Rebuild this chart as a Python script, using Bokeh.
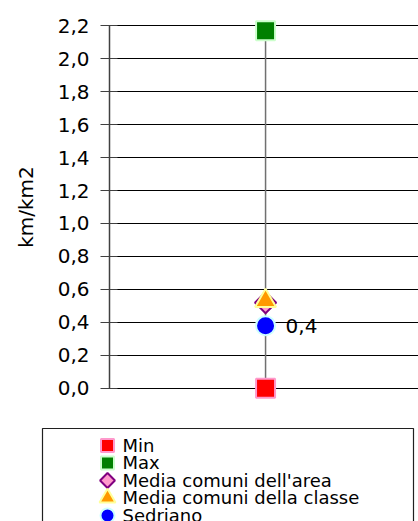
from bokeh.plotting import figure
from bokeh.models import FixedTicker, Range1d, BoxAnnotation, ColumnDataSource
from bokeh.layouts import column
from bokeh.core.properties import value
from bokeh.embed import file_html
from bokeh.resources import INLINE
import math

# data
series_names = ["Min", "Max", "Media comuni dell'area", "Media comuni della classe", "Sedriano"]
x_cat = [0.0]
min_vals = [0.0]
max_vals = [2.17]
media_area = [0.52]
media_classe = [0.53]
sedriano = [0.38]
tick_values = [0.0, 0.2, 0.4, 0.6, 0.8, 1.0, 1.2, 1.4, 1.6, 1.8, 2.0, 2.2]
tick_labels = ["0,0", "0,2", "0,4", "0,6", "0,8", "1,0", "1,2", "1,4", "1,6", "1,8", "2,0", "2,2"]
y_label = "km/km2"

FONT = "DejaVu Sans"

# styles per series (marker, size, angle, fill, line)
styles = [
    ("square", 19, 0.0, "#ff0000", "#ff99cc"),
    ("square", 19, 0.0, "#008000", "#ccffcc"),
    ("square", 15, math.pi / 4, "#ff99cc", "#800080"),
    ("triangle", 21, 0.0, "#ff9900", "#ffff99"),
    ("circle", 19, 0.0, "#0000ff", "#ccffff"),
]
legend_styles = [
    ("square", 13, 0.0),
    ("square", 13, 0.0),
    ("square", 10.5, math.pi / 4),
    ("triangle", 16, 0.0),
    ("circle", 14, 0.0),
]

p = figure(width=418, height=410, output_backend="svg", toolbar_location=None,
           x_range=Range1d(-1, 0.98), y_range=Range1d(-0.08, 2.28),
           min_border_left=109, min_border_right=0, min_border_top=12, min_border_bottom=9,
           frame_align=False)
p.outline_line_color = None
p.background_fill_color = "white"
p.border_fill_color = "white"

p.xaxis.visible = False
p.xgrid.visible = False

ya = p.yaxis[0]
ya.ticker = FixedTicker(ticks=tick_values)
ya.major_label_overrides = dict(zip(tick_values, tick_labels))
ya.bounds = (0, 2.2)
ya.minor_tick_line_color = None
ya.major_tick_in = 8
ya.major_tick_out = 9
ya.major_label_standoff = 11
ya.axis_line_color = "#404040"
ya.axis_line_width = 1.5
ya.major_tick_line_color = "#404040"
ya.major_tick_line_width = 1.2
ya.major_label_text_font = FONT
ya.major_label_text_font_size = "20px"
ya.major_label_text_color = "black"
ya.axis_label = y_label
ya.axis_label_text_font = FONT
ya.axis_label_text_font_size = "20px"
ya.axis_label_text_font_style = "normal"
ya.axis_label_text_color = "black"
ya.axis_label_standoff = 17

p.ygrid.ticker = FixedTicker(ticks=tick_values)
p.ygrid.grid_line_color = "black"
p.ygrid.grid_line_width = 1
p.ygrid.grid_line_alpha = 1.0

src = ColumnDataSource(dict(x=x_cat, lo=min_vals, hi=max_vals, area=media_area,
                            classe=media_classe, sed=sedriano,
                            lab=[f"{v:.1f}".replace(".", ",") for v in sedriano]))

p.segment(x0="x", y0="lo", x1="x", y1="hi", source=src, line_color="#707070", line_width=1.5)

for col, (mk, sz, ang, fc, lc) in zip(["lo", "hi", "area", "classe", "sed"], styles):
    p.scatter("x", col, source=src, marker=mk, size=sz, angle=ang,
              fill_color=fc, line_color=lc, line_width=2)

p.text(x="x", y="sed", text="lab", source=src, x_offset=20, text_baseline="middle",
       text_align="left", text_font=value(FONT), text_font_size="20px", text_color="black")

# legend panel
row_idx = list(range(len(series_names)))
lg = figure(width=418, height=111, output_backend="svg", toolbar_location=None,
            x_range=Range1d(-107, 311), y_range=Range1d(4.343, -2.0),
            min_border_left=0, min_border_right=0, min_border_top=0, min_border_bottom=0,
            frame_align=False)
lg.outline_line_color = None
lg.axis.visible = False
lg.grid.visible = False
lg.background_fill_color = "white"
lg.border_fill_color = "white"

box = BoxAnnotation(left=42, right=413, top=18, bottom=300,
                    left_units="canvas", right_units="canvas",
                    top_units="canvas", bottom_units="canvas",
                    fill_color=None, fill_alpha=0, line_color="#202020", line_width=1.2, line_alpha=1)
lg.add_layout(box)

for i, ((mk, _, _, fc, lc), (lmk, lsz, lang)) in enumerate(zip(styles, legend_styles)):
    lg.scatter(x=[0], y=[row_idx[i]], marker=lmk, size=lsz, angle=lang,
               fill_color=fc, line_color=lc, line_width=2)

lsrc = ColumnDataSource(dict(x=[0] * len(series_names), y=row_idx, t=series_names))
lg.text(x="x", y="y", text="t", source=lsrc, x_offset=15, text_baseline="middle",
        text_align="left", text_font=value(FONT), text_font_size="18px", text_color="black")

layout = column(p, lg, spacing=0)
open("out.html", "w").write(file_html(layout, INLINE))
